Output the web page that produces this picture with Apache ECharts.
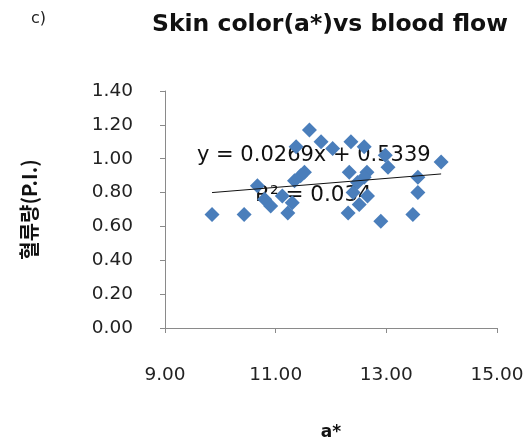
<!DOCTYPE html>
<html>
<head>
<meta charset="utf-8">
<script src="https://cdn.jsdelivr.net/npm/echarts@6/dist/echarts.min.js"></script>
<style>
  html, body { margin: 0; padding: 0; background: #fff; }
  #chart { width: 528px; height: 443px; }
</style>
</head>
<body>
<div id="chart"></div>
<script>
// a* 값
const aStar = [9.85, 10.43, 10.67, 10.80, 10.91, 11.12, 11.22, 11.30, 11.34, 11.45, 11.52, 11.37,
  11.61, 11.82, 12.03, 12.36, 12.33, 12.31, 12.40, 12.48, 12.51, 12.60, 12.65, 12.60, 12.66,
  12.90, 12.98, 13.03, 13.48, 13.57, 13.57, 13.99]
// 혈류량 (P.I.)
const bloodFlow = [0.67, 0.67, 0.84, 0.76, 0.72, 0.78, 0.68, 0.74, 0.87, 0.90, 0.92, 1.07,
  1.17, 1.10, 1.06, 1.10, 0.92, 0.68, 0.80, 0.86, 0.73, 1.07, 0.92, 0.89, 0.78,
  0.63, 1.02, 0.95, 0.67, 0.89, 0.80, 0.98]
// 추세선 양 끝
const trendX = [9.85, 13.99]
const trendY = [0.80, 0.91]
const xTicks = [9, 11, 13, 15]
const yTicks = [0, 0.2, 0.4, 0.6, 0.8, 1.0, 1.2, 1.4]

const chart = echarts.init(document.getElementById('chart'))

const axisCommon = {
  axisLine: { show: true, lineStyle: { color: '#8a8a8a', width: 1 } },
  axisTick: { show: true, inside: false, length: 5, lineStyle: { color: '#8a8a8a' } },
  splitLine: { show: false },
  axisLabel: { color: '#222', fontSize: 18.5, fontFamily: 'DejaVu Sans', formatter: v => v.toFixed(2) }
}

const option = {
  backgroundColor: '#fff',
  animation: false,
  grid: { left: 165, top: 91, right: 31, bottom: 115, outerBoundsMode: 'none', containLabel: false },
  title: [
    {
      text: 'Skin color(a*)vs blood flow',
      left: 147, top: 8,
      textStyle: { fontSize: 23.5, fontWeight: 'bold', color: '#111', fontFamily: 'DejaVu Sans' }
    },
    {
      text: 'c)',
      left: 26, top: 6,
      textStyle: { fontSize: 16, fontWeight: 'normal', color: '#222', fontFamily: 'DejaVu Sans' }
    }
  ],
  xAxis: Object.assign({}, axisCommon, {
    type: 'value', min: xTicks[0], max: xTicks[xTicks.length - 1], interval: 2,
    name: 'a*', nameLocation: 'middle', nameGap: 96,
    nameTextStyle: { fontSize: 17, fontWeight: 'bold', color: '#111', fontFamily: 'DejaVu Sans' },
    axisLabel: Object.assign({}, axisCommon.axisLabel, { margin: 38 })
  }),
  yAxis: Object.assign({}, axisCommon, {
    type: 'value', min: yTicks[0], max: yTicks[yTicks.length - 1], interval: 0.2,
    name: '혈류량(P.I.)', nameLocation: 'middle', nameGap: 126, nameRotate: 90,
    nameTextStyle: { fontSize: 20, fontWeight: 'bold', color: '#111', fontFamily: 'Noto Sans CJK KR' },
    axisLabel: Object.assign({}, axisCommon.axisLabel, { margin: 32 })
  }),
  graphic: [
    { type: 'text', left: 197, top: 145, style: { text: 'y = 0.0269x + 0.5339', fontSize: 21, fill: '#111', fontFamily: 'DejaVu Sans' } },
    { type: 'text', left: 255, top: 184, style: { text: 'R² = 0.034', fontSize: 21.5, fill: '#111', fontFamily: 'DejaVu Sans' } }
  ],
  series: [
    {
      type: 'scatter',
      symbol: 'diamond',
      symbolSize: 15,
      itemStyle: { color: '#4A7EBB', opacity: 1 },
      data: aStar.map((x, i) => [x, bloodFlow[i]]),
      z: 2
    },
    {
      type: 'line',
      symbol: 'none',
      lineStyle: { color: '#111', width: 1 },
      data: trendX.map((x, i) => [x, trendY[i]]),
      z: 3
    }
  ]
}
chart.setOption(option)
</script>
</body>
</html>
